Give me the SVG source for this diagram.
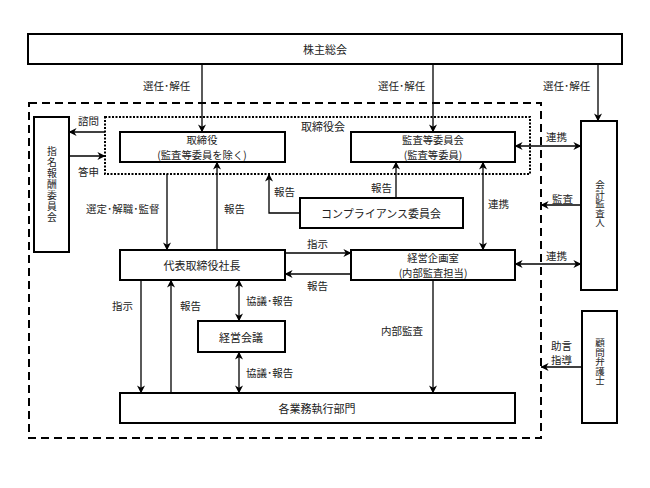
<svg xmlns="http://www.w3.org/2000/svg" width="650" height="488" viewBox="0 0 650 488">
<defs>
<marker id="ah" viewBox="0 0 10 10" refX="9.5" refY="5" markerWidth="8" markerHeight="8" orient="auto-start-reverse" markerUnits="userSpaceOnUse">
<path d="M0,0 L10,5 L0,10 L3,5 Z" fill="#000"/>
</marker>
<style>
.box{fill:#fff;stroke:#000;stroke-width:2}
.t{font-family:"Noto Sans CJK JP","Liberation Sans",sans-serif;font-size:11px;fill:#222;text-anchor:middle;dominant-baseline:central}
.t2{font-family:"Noto Sans CJK JP","Liberation Sans",sans-serif;font-size:10.3px;fill:#222;text-anchor:middle;dominant-baseline:central}
.v{font-family:"Noto Sans CJK JP","Liberation Sans",sans-serif;font-size:9.5px;fill:#222;text-anchor:middle;writing-mode:vertical-rl}
.l{font-family:"Noto Sans CJK JP","Liberation Sans",sans-serif;font-size:10.5px;fill:#222;dominant-baseline:central}
.c{fill:none;stroke:#000;stroke-width:1.3}
.a{marker-end:url(#ah)}
.b{marker-start:url(#ah);marker-end:url(#ah)}
</style>
</defs>
<rect width="650" height="488" fill="#fff"/>
<g id="outer"><rect x="29" y="103" width="512" height="335" fill="none" stroke="#000" stroke-width="2" stroke-dasharray="8,5"/></g>
<g id="board"><rect x="105" y="117" width="425" height="57" fill="none" stroke="#000" stroke-width="2" stroke-dasharray="2,1.5"/><text class="t" x="323" y="126">取締役会</text></g>
<g id="connectors">
<line class="c a" x1="202" y1="64" x2="202" y2="132"/>
<line class="c a" x1="433" y1="64" x2="433" y2="132"/>
<line class="c a" x1="598" y1="64" x2="598" y2="121"/>
<line class="c a" x1="105" y1="132" x2="69" y2="132"/>
<line class="c a" x1="69" y1="156" x2="105" y2="156"/>
<polyline class="c a" points="300,213 269,213 269,174"/>
<line class="c a" x1="396" y1="198" x2="396" y2="162"/>
<line class="c a" x1="167" y1="174" x2="167" y2="250"/>
<line class="c a" x1="217" y1="250" x2="217" y2="162"/>
<line class="c b" x1="483" y1="162" x2="483" y2="250"/>
<line class="c b" x1="515" y1="146" x2="581" y2="146"/>
<line class="c a" x1="581" y1="205" x2="541" y2="205"/>
<line class="c b" x1="515" y1="264" x2="581" y2="264"/>
<line class="c a" x1="582" y1="367" x2="541" y2="367"/>
<line class="c a" x1="285" y1="253" x2="351" y2="253"/>
<line class="c a" x1="351" y1="274" x2="285" y2="274"/>
<line class="c b" x1="239" y1="280" x2="239" y2="321"/>
<line class="c b" x1="239" y1="352" x2="239" y2="393"/>
<line class="c a" x1="141" y1="280" x2="141" y2="393"/>
<line class="c a" x1="171" y1="393" x2="171" y2="280"/>
<line class="c a" x1="433" y1="280" x2="433" y2="393"/>
<text class="l" x="143" y="85">選任･解任</text>
<text class="l" x="378" y="85">選任･解任</text>
<text class="l" x="543" y="85">選任･解任</text>
<text class="l" x="78" y="120">諮問</text>
<text class="l" x="78" y="171">答申</text>
<text class="l" x="274" y="191">報告</text>
<text class="l" x="371" y="187">報告</text>
<text class="l" x="86" y="208">選定･解職･監督</text>
<text class="l" x="224" y="208">報告</text>
<text class="l" x="488" y="203">連携</text>
<text class="l" x="546" y="136">連携</text>
<text class="l" x="552" y="198">監査</text>
<text class="l" x="546" y="255">連携</text>
<text class="l" x="307" y="243">指示</text>
<text class="l" x="307" y="285">報告</text>
<text class="l" x="112" y="305">指示</text>
<text class="l" x="180" y="305">報告</text>
<text class="l" x="246" y="300">協議･報告</text>
<text class="l" x="246" y="372">協議･報告</text>
<text class="l" x="381" y="330">内部監査</text>
<text class="l" x="551" y="345">助言</text>
<text class="l" x="551" y="359">指導</text>
</g>
<g id="shareholders"><rect class="box" x="28" y="34" width="594" height="30"/><text class="t" x="325" y="49">株主総会</text></g>
<g id="directors"><rect class="box" x="120" y="132" width="165" height="30"/><text class="t2" x="202" y="139.5">取締役</text><text class="t2" x="202" y="154.5">(監査等委員を除く)</text></g>
<g id="audit-committee"><rect class="box" x="351" y="132" width="164" height="30"/><text class="t2" x="433" y="139.5">監査等委員会</text><text class="t2" x="433" y="154.5">(監査等委員)</text></g>
<g id="nomination"><rect class="box" x="34" y="117" width="35" height="135"/>
<text class="v" x="52" y="184.5" style="letter-spacing:1.2px;font-size:9.8px">指名報酬委員会</text></g>
<g id="compliance"><rect class="box" x="300" y="198" width="163" height="30"/><text class="t" x="381" y="213">コンプライアンス委員会</text></g>
<g id="auditor"><rect class="box" x="581" y="121" width="36" height="169"/>
<text class="v" x="600" y="203.5">会計監査人</text></g>
<g id="president"><rect class="box" x="120" y="250" width="165" height="30"/><text class="t" x="202" y="265">代表取締役社長</text></g>
<g id="planning"><rect class="box" x="351" y="250" width="164" height="30"/><text class="t2" x="433" y="257.5">経営企画室</text><text class="t2" x="433" y="272.5">(内部監査担当)</text></g>
<g id="lawyer"><rect class="box" x="582" y="311" width="35" height="112"/>
<text class="v" x="600" y="361.5">顧問弁護士</text></g>
<g id="management"><rect class="box" x="198" y="321" width="87" height="31"/><text class="t" x="241" y="337">経営会議</text></g>
<g id="departments"><rect class="box" x="120" y="393" width="395" height="30"/><text class="t" x="317" y="408">各業務執行部門</text></g>
</svg>
